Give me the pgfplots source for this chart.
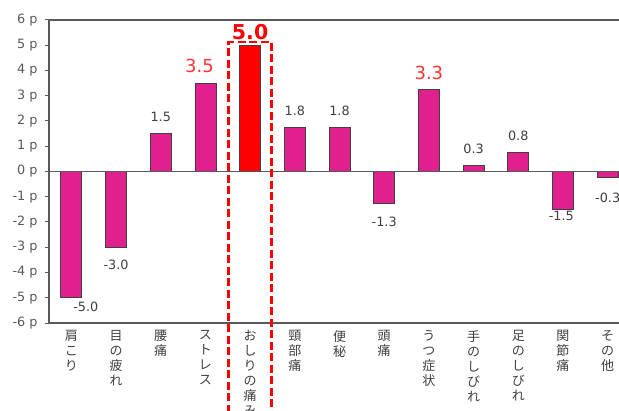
\documentclass[border=0pt]{standalone}
\usepackage{fontspec}
\setmainfont{DejaVu Sans}
\newfontfamily\cjk{Noto Sans CJK JP}
\usepackage{pgfplots}
\pgfplotsset{compat=1.18}
\usepackage{pgfplotstable}

\definecolor{barmag}{HTML}{E0208C}
\definecolor{labred}{HTML}{FF3333}
\definecolor{axgray}{HTML}{595959}
\definecolor{txtgray}{HTML}{404040}

% x = category index, y = bar value, dx/dy = label offset (pt), lab = label text
\pgfplotstableread{
x  y     dx    dy    lab
0  -5.0  14.5  -9    -5.0
1  -3.0  0     -18   -3.0
2  1.5   0     16.5  1.5
5  1.75  0     16    1.8
6  1.75  0     16    1.8
7  -1.25 0     -18.5 -1.3
9  0.25  0     16    0.3
10 0.75  0     16.5  0.8
11 -1.5  -1.7  -7    -1.5
12 -0.25 0     -20   -0.3
}\normalbars

\pgfplotstableread{
x  y     dx  dy  lab
3  3.5   -6  17  3.5
8  3.25  0   16  3.3
}\redlabbars

\pgfplotstableread{
x  y    dx  dy    lab
4  5.0  0   13.7  5.0
}\topbar

\begin{document}
\begin{tikzpicture}
\begin{axis}[
  name=ax,
  width=581pt, height=303pt, scale only axis,
  xmin=-0.5, xmax=12.5, ymin=-6, ymax=6,
  ybar, bar width=21pt,
  clip=false,
  axis line style={axgray, line width=1.6pt},
  ytick={-6,...,6},
  yticklabels={-6 p,-5 p,-4 p,-3 p,-2 p,-1 p,0 p,1 p,2 p,3 p,4 p,5 p,6 p},
  ytick pos=left,
  tick align=outside, major tick length=4pt,
  ytick style={axgray, line width=1pt},
  yticklabel style={font=\fontsize{12.8}{14}\selectfont, text=axgray, xshift=-4pt},
  xtick={0,...,12},
  xtick style={draw=none},
  xticklabels={
    {肩\\こ\\り},{目\\の\\疲\\れ},{腰\\痛},{ス\\ト\\レ\\ス},{お\\し\\り\\の\\痛\\み},
    {頸\\部\\痛},{便\\秘},{頭\\痛},{う\\つ\\症\\状},{手\\の\\し\\び\\れ},
    {足\\の\\し\\び\\れ},{関\\節\\痛},{そ\\の\\他}},
  xticklabel style={font=\cjk\fontsize{13}{15}\selectfont, text=txtgray,
    align=center, anchor=north},
  visualization depends on={\thisrow{dx}\as\dx},
  visualization depends on={\thisrow{dy}\as\dy},
  point meta=explicit symbolic,
  nodes near coords,
]
\addplot[bar shift=0pt, fill=barmag, draw=txtgray, line width=0.75pt,
  every node near coord/.append style={anchor=center, xshift=\dx pt, yshift=\dy pt,
    font=\fontsize{12.8}{14}\selectfont, text=txtgray}]
  table[x=x, y=y, meta=lab] {\normalbars};
\addplot[bar shift=0pt, fill=barmag, draw=txtgray, line width=0.75pt,
  every node near coord/.append style={anchor=center, xshift=\dx pt, yshift=\dy pt,
    font=\fontsize{18}{20}\selectfont, text=labred}]
  table[x=x, y=y, meta=lab] {\redlabbars};
\addplot[bar shift=0pt, fill=red, draw=txtgray, line width=0.75pt,
  every node near coord/.append style={anchor=center, xshift=\dx pt, yshift=\dy pt,
    font=\bfseries\fontsize{20.5}{22}\selectfont, text=red}]
  table[x=x, y=y, meta=lab] {\topbar};
\draw[axgray, line width=1.6pt] (axis cs:-0.5,0) -- (axis cs:12.5,0);
\draw[red, line width=2.5pt, dash pattern=on 8pt off 3.5pt]
  (axis cs:3.52,-10) -- (axis cs:3.52,5.13) -- (axis cs:4.48,5.13) -- (axis cs:4.48,-10);
\end{axis}
\pgfresetboundingbox
\path[use as bounding box] ([xshift=-49pt,yshift=-87pt]ax.south west)
  rectangle ([xshift=570pt,yshift=20pt]ax.north west);
\end{tikzpicture}
\end{document}
